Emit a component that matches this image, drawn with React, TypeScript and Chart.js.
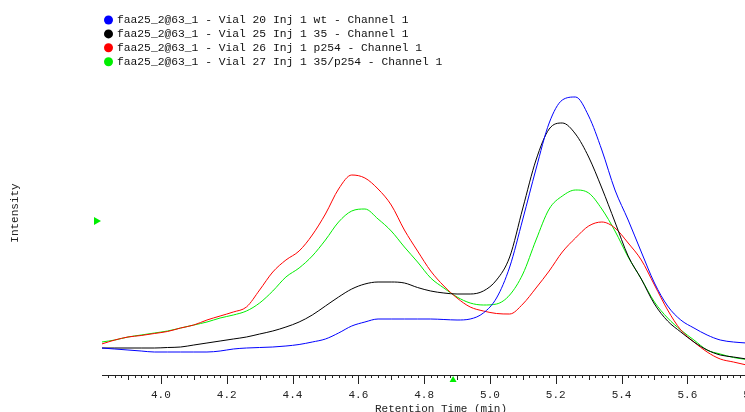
import React, { useEffect, useRef } from 'react';
import { Chart, registerables } from 'chart.js';

Chart.register(...registerables);

// Retention time (min)
const retentionTimes = [
  3.82, 3.86, 3.90, 3.94, 3.98, 4.02, 4.06, 4.10, 4.14, 4.18,
  4.22, 4.26, 4.30, 4.34, 4.38, 4.42, 4.46, 4.50, 4.54, 4.58,
  4.62, 4.66, 4.70, 4.74, 4.78, 4.82, 4.86, 4.90, 4.94, 4.98,
  5.02, 5.06, 5.10, 5.14, 5.18, 5.22, 5.26, 5.30, 5.34, 5.38,
  5.42, 5.46, 5.50, 5.54, 5.58, 5.62, 5.66, 5.70, 5.74, 5.78,
];

// Intensity (arbitrary units)
const vial20wt = [
  27, 26, 25, 24, 23, 23, 23, 23, 23, 24,
  26, 27, 27.5, 28, 29, 30.5, 33, 36, 42, 49,
  53, 56, 56, 56, 56, 56, 55.5, 55, 56, 62,
  77, 108, 156, 206, 252, 275, 278, 259, 225, 185,
  155, 123, 92, 69, 55, 47, 40, 35, 33, 32,
];
const vial25_35 = [
  27, 27, 27, 27, 27, 27.5, 28, 30, 32, 34,
  36, 38, 41, 44, 48, 53, 60, 69, 78, 86,
  91, 93, 93, 92, 87.5, 84, 82, 81, 81, 84,
  95, 118, 167, 215, 246, 252, 241, 218, 187, 153,
  119, 96, 71, 54, 43, 33, 25, 20, 18, 16,
];
const vial26_p254 = [
  31, 35, 38, 39.5, 41.5, 43.5, 47, 50, 55, 59,
  63, 68, 85, 103, 115, 124, 140, 161, 186, 200,
  197, 186, 170, 145, 124, 104, 89, 77, 68, 64,
  61.5, 61, 71, 87, 104, 123, 137, 149, 153, 147,
  132, 115, 90, 65, 45, 33, 23, 16, 13, 10,
];
const vial27_35p254 = [
  33, 35, 38, 40, 42, 44, 47, 50, 53, 57,
  60, 64, 72, 84, 98, 107, 119, 135, 153, 164,
  166, 156, 144, 128, 113, 97, 87, 78, 72, 70,
  71, 80, 101, 135, 166, 179, 185, 182, 166, 144,
  118, 96, 73, 57, 45, 35, 25, 21, 17.5, 15.5,
];

const seriesLabels = [
  'faa25_2@63_1 - Vial 20 Inj 1 wt - Channel 1',
  'faa25_2@63_1 - Vial 25 Inj 1 35 - Channel 1',
  'faa25_2@63_1 - Vial 26 Inj 1 p254 - Channel 1',
  'faa25_2@63_1 - Vial 27 Inj 1 35/p254 - Channel 1',
];
const seriesColors = ['#0000ff', '#000000', '#ff0000', '#00ee00'];
const seriesValues = [vial20wt, vial25_35, vial26_p254, vial27_35p254];

const xTickValues = [4.0, 4.2, 4.4, 4.6, 4.8, 5.0, 5.2, 5.4, 5.6, 5.8];
const xTickLabels = ['4.0', '4.2', '4.4', '4.6', '4.8', '5.0', '5.2', '5.4', '5.6', '5.8'];

const thresholdIntensity = 154; // left green marker
const integrationMarkTime = 4.888; // bottom green marker

const MONO = "'Liberation Mono', 'DejaVu Sans Mono', monospace";

const decorPlugin = {
  id: 'decor',
  afterDraw(chart: any) {
    const { ctx, chartArea, scales } = chart;
    const xs = scales.x;
    const ys = scales.y;
    const y0 = chartArea.bottom;
    ctx.save();
    // axis line + ticks
    ctx.strokeStyle = '#222';
    ctx.lineWidth = 1;
    ctx.beginPath();
    ctx.moveTo(chartArea.left, y0 + 0.5);
    ctx.lineTo(chart.width, y0 + 0.5);
    const start = Math.ceil(xs.min / 0.02 - 1e-6);
    const end = Math.floor(xs.max / 0.02 + 1e-6);
    for (let k = start; k <= end; k++) {
      const px = Math.round(xs.getPixelForValue(k * 0.02)) + 0.5;
      const len = k % 10 === 0 ? 9 : k % 5 === 0 ? 5 : 3;
      ctx.moveTo(px, y0);
      ctx.lineTo(px, y0 + len);
    }
    ctx.stroke();

    // legend
    ctx.font = `11.3px ${MONO}`;
    ctx.textBaseline = 'middle';
    ctx.textAlign = 'left';
    chart.data.datasets.forEach((ds: any, i: number) => {
      const cy = 20 + i * 13.9;
      ctx.fillStyle = ds.borderColor;
      ctx.beginPath();
      ctx.arc(108.5, cy, 4.5, 0, Math.PI * 2);
      ctx.fill();
      ctx.fillStyle = '#111';
      ctx.fillText(ds.label, 117, cy);
    });

    // markers
    ctx.fillStyle = '#00ee00';
    const ty = ys.getPixelForValue(thresholdIntensity);
    ctx.beginPath();
    ctx.moveTo(94, ty - 4);
    ctx.lineTo(101, ty);
    ctx.lineTo(94, ty + 4);
    ctx.closePath();
    ctx.fill();
    const mx = xs.getPixelForValue(integrationMarkTime);
    ctx.beginPath();
    ctx.moveTo(mx - 3.5, y0 + 7);
    ctx.lineTo(mx, y0 + 1);
    ctx.lineTo(mx + 3.5, y0 + 7);
    ctx.closePath();
    ctx.fill();
    ctx.restore();
  },
};

export default function App() {
  const canvasRef = useRef<HTMLCanvasElement | null>(null);

  useEffect(() => {
    if (!canvasRef.current) return;
    const chart = new Chart(canvasRef.current, {
      type: 'line',
      data: {
        datasets: seriesValues.map((vals, i) => ({
          label: seriesLabels[i],
          data: retentionTimes.map((t, j) => ({ x: t, y: vals[j] })),
          borderColor: seriesColors[i],
          backgroundColor: seriesColors[i],
          borderWidth: 1,
          pointRadius: 0,
          tension: 0,
          cubicInterpolationMode: 'monotone' as const,
          fill: false,
        })),
      },
      options: {
        responsive: false,
        devicePixelRatio: 1,
        animation: false,
        layout: { padding: { top: 51, right: 0, bottom: 0, left: 0 } },
        plugins: {
          legend: { display: false },
          tooltip: { enabled: false },
        },
        scales: {
          x: {
            type: 'linear',
            min: 3.821,
            max: 5.8815,
            grid: { display: false },
            border: { display: false },
            afterBuildTicks: (scale: any) => {
              scale.ticks = xTickValues.map((v) => ({ value: v }));
            },
            afterFit: (scale: any) => {
              scale.height = 37;
            },
            ticks: {
              autoSkip: false,
              maxRotation: 0,
              padding: 5,
              color: '#222',
              font: { family: MONO, size: 11 },
              callback: (value: any) => {
                const idx = xTickValues.findIndex((v) => Math.abs(v - Number(value)) < 1e-6);
                return idx >= 0 ? xTickLabels[idx] : '';
              },
            },
            title: {
              display: true,
              text: 'Retention Time (min)',
              color: '#222',
              font: { family: MONO, size: 11 },
              padding: { top: 0, bottom: -4 },
            },
          },
          y: {
            min: 0,
            max: 324,
            grid: { display: false },
            border: { display: false },
            ticks: { display: false },
            afterFit: (scale: any) => {
              scale.width = 102;
            },
            title: {
              display: true,
              text: 'Intensity',
              color: '#222',
              font: { family: MONO, size: 11 },
              padding: { top: 8, bottom: 0 },
            },
          },
        },
      },
      plugins: [decorPlugin],
    });
    return () => chart.destroy();
  }, []);

  return (
    <div
      style={{
        position: 'absolute',
        left: 0,
        top: 0,
        width: 745,
        height: 412,
        overflow: 'hidden',
        background: '#fff',
      }}
    >
      <canvas ref={canvasRef} width={780} height={412} style={{ display: 'block' }} />
    </div>
  );
}
